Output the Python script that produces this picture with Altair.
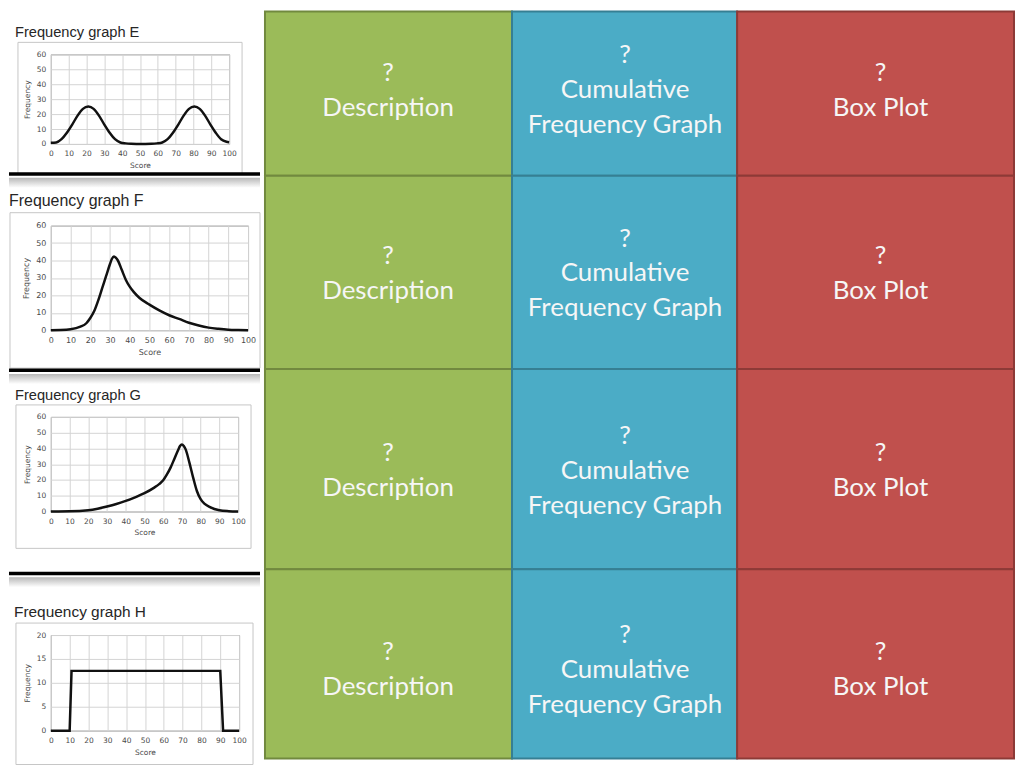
import altair as alt
import pandas as pd

names = ["Frequency graph E", "Frequency graph F", "Frequency graph G", "Frequency graph H"]

e_score = [0, 3, 6, 9, 12, 15, 18, 21, 24, 27, 30, 33, 36, 39, 42, 45, 48, 50,
           53, 56.5, 59.5, 62.5, 65.5, 68.5, 71.5, 74.5, 77.5, 80.5, 83.5, 86.5,
           89.5, 92.5, 95.5, 98.5, 100]
e_freq = [0.8, 1, 3.2, 7.5, 13, 19, 23.5, 25, 23.5, 19, 13, 7.5, 3.2, 1, 0.4, 0.1, 0, 0,
          0, 0.1, 0.4, 1, 3.2, 7.5, 13, 19, 23.5, 25, 23.5, 19,
          13, 7.5, 3.2, 1.5, 1.2]

f_score = [0, 5, 10, 15, 18, 20, 22, 24, 26, 28, 30, 31, 32, 33, 34, 36, 38, 40,
           42, 45, 50, 55, 60, 65, 70, 75, 80, 85, 90, 95, 100]
f_freq = [0, 0.1, 0.5, 2, 4, 7, 11, 17, 24, 31, 38, 41, 42.3, 41.5, 40, 34.5, 29, 25,
          22, 18.5, 14.7, 11.4, 8.6, 6.5, 4.3, 2.7, 1.5, 0.8, 0.3, 0.1, 0]

g_score = [0, 10, 20, 25, 30, 35, 40, 45, 50, 55, 58, 60, 62, 64, 66, 68, 69, 70,
           71, 72, 74, 76, 78, 80, 82, 85, 90, 95, 100]
g_freq = [0, 0.1, 0.8, 1.8, 3.2, 4.8, 6.7, 9, 11.6, 15, 17.5, 19.8, 23.5, 28, 33.5, 39, 41.5, 42.5,
          41.5, 39.4, 31, 21.5, 13, 7.8, 5, 2.8, 0.8, 0.2, 0]

h_score = [0, 10, 11, 90, 91.5, 100]
h_freq = [0, 0, 12.5, 12.5, 0, 0]

y_max = [60, 60, 60, 20]
y_step = [10, 10, 10, 5]

tile_kinds = ["description", "cumulative", "boxplot"]
tile_lines = [["?", "Description"], ["?", "Cumulative", "Frequency Graph"], ["?", "Box Plot"]]
tile_fill = ["#9bbb59", "#4bacc6", "#c0504d"]
tile_edge = ["#71893f", "#367f93", "#8d3a37"]

# layout of the slide, in pixels
CELL_W = 254
LEFT = 42
TOP0 = 44
panel_layout = [
    dict(w=179, h=90, top=44, cell_h=166, frame=(-33, 13, -12, 30),
         title=(-36, -17, 14.7), font=7.5, shadow=False, sep=True, interp="monotone"),
    dict(w=198, h=105, top=48, cell_h=195, frame=(-41, 12, -13, 38),
         title=(-42, -20, 16), font=8, shadow=True, sep=True, interp="monotone"),
    dict(w=188, h=95, top=43, cell_h=202, frame=(-35, 13, -12, 37),
         title=(-36, -17, 14.7), font=7.5, shadow=True, sep=True, interp="monotone"),
    dict(w=189, h=96, top=58, cell_h=189, frame=(-35, 14, -12, 34),
         title=(-37, -18, 15.5), font=7.5, shadow=True, sep=False, interp="linear"),
]
TILE_W = 754
col_edges = [1, 249, 475, 753]
text_x = [124.5, 362.5, 619]
row_edges = [1, 166, 360, 561, 751]
row_mid = [80, 264, 462, 662]
LINE_GAP = 35


def freq_panel(name, score, freq, ymax, ystep, g):
    w, h = g["w"], g["h"]
    right = CELL_W - LEFT - w
    bottom = g["cell_h"] - g["top"] - h
    base = alt.Chart(pd.DataFrame({"t": [name]}))

    layers = [
        base.mark_rect(fill="transparent").encode(
            x=alt.value(-LEFT), x2=alt.value(w + right),
            y=alt.value(-g["top"]), y2=alt.value(h + bottom))
    ]
    if g["shadow"]:
        shade = alt.Gradient(
            gradient="linear", x1=0, x2=0, y1=0, y2=1,
            stops=[alt.GradientStop(color="#b8b8b8", offset=0),
                   alt.GradientStop(color="#ffffff", offset=1)])
        layers.append(base.mark_rect(fill=shade).encode(
            x=alt.value(-LEFT), x2=alt.value(w + right - 2),
            y=alt.value(-g["top"]), y2=alt.value(-g["top"] + 10)))
    fx1, fx2, fy1, fy2 = g["frame"]
    layers.append(base.mark_rect(fill="transparent", stroke="#c6c6c6", strokeWidth=1).encode(
        x=alt.value(fx1), x2=alt.value(w + fx2), y=alt.value(fy1), y2=alt.value(h + fy2)))
    if g["sep"]:
        layers.append(base.mark_rect(color="#000000").encode(
            x=alt.value(-LEFT), x2=alt.value(w + right - 2),
            y=alt.value(h + bottom - 3.5), y2=alt.value(h + bottom)))
    tx, ty, ts = g["title"]
    layers.append(base.mark_text(align="left", baseline="alphabetic", font="Liberation Sans",
                                 fontSize=ts, color="#262626").encode(
        x=alt.value(tx), y=alt.value(ty), text="t:N"))

    fs = g["font"]
    line = alt.Chart(pd.DataFrame({"score": score, "freq": freq})).mark_line(
        color="#111111", strokeWidth=2.5, interpolate=g["interp"]
    ).encode(
        x=alt.X("score:Q", scale=alt.Scale(domain=[0, 100], nice=False),
                axis=alt.Axis(values=list(range(0, 101, 10)), title="Score",
                              labelFontSize=fs, titleFontSize=fs,
                              labelPadding=6, titlePadding=4)),
        y=alt.Y("freq:Q", scale=alt.Scale(domain=[0, ymax], nice=False),
                axis=alt.Axis(values=list(range(0, ymax + 1, ystep)), title="Frequency",
                              labelFontSize=fs, titleFontSize=fs,
                              labelPadding=5, titlePadding=5)),
    )
    layers.append(line)
    return alt.layer(*layers).properties(width=w, height=h)


series = [(e_score, e_freq), (f_score, f_freq), (g_score, g_freq), (h_score, h_freq)]
panels = [
    freq_panel(names[i], series[i][0], series[i][1], y_max[i], y_step[i], panel_layout[i])
    for i in range(4)
]
left = alt.vconcat(*panels, spacing=0)

tile_rows, text_rows = [], []
for r in range(4):
    for c in range(3):
        tile_rows.append(dict(
            kind=tile_kinds[c],
            x0=col_edges[c], x1=col_edges[c + 1],
            y0=row_edges[r], y1=row_edges[r + 1],
        ))
        n = len(tile_lines[c])
        for i, txt in enumerate(tile_lines[c]):
            text_rows.append(dict(
                label=txt, xm=text_x[c],
                ym=row_mid[r] + (i - (n - 1) / 2) * LINE_GAP,
            ))
tiles_df = pd.DataFrame(tile_rows)
text_df = pd.DataFrame(text_rows)

xs = alt.Scale(domain=[0, TILE_W], nice=False, zero=False)
ys = alt.Scale(domain=[TOP0, row_edges[-1] + 1], nice=False, zero=False, reverse=True)

tile_rects = alt.Chart(tiles_df).mark_rect(strokeWidth=2).encode(
    x=alt.X("x0:Q", scale=xs, axis=None),
    x2="x1:Q",
    y=alt.Y("y0:Q", scale=ys, axis=None),
    y2="y1:Q",
    fill=alt.Fill("kind:N", scale=alt.Scale(domain=tile_kinds, range=tile_fill), legend=None),
    stroke=alt.Stroke("kind:N", scale=alt.Scale(domain=tile_kinds, range=tile_edge), legend=None),
)
tile_text = alt.Chart(text_df).mark_text(
    font="Lato", fontSize=26, color="#f6f6f6", align="center", baseline="middle"
).encode(
    x=alt.X("xm:Q", scale=xs, axis=None),
    y=alt.Y("ym:Q", scale=ys, axis=None),
    text="label:N",
)
tiles = alt.layer(tile_rects, tile_text).properties(
    width=TILE_W, height=row_edges[-1] + 1 - TOP0,
    view=alt.ViewBackground(stroke="transparent"),
)

chart = alt.hconcat(left, tiles, spacing=0).properties(
    padding=0, background="white"
).configure_view(
    stroke="#868686", strokeWidth=1
).configure_axis(
    domain=False, ticks=False, grid=True, gridColor="#d4d4d4", gridWidth=1,
    labelFlush=False, labelOverlap=False,
    labelFont="DejaVu Sans", labelColor="#4a4a4a",
    titleFont="DejaVu Sans", titleColor="#4a4a4a", titleFontWeight="normal",
)

chart.save("out.html", embed_options={"renderer": "svg", "actions": False})
